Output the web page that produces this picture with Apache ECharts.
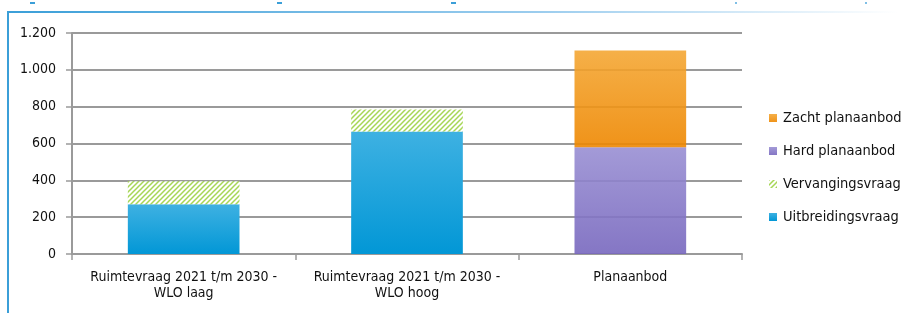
<!DOCTYPE html>
<html>
<head>
<meta charset="utf-8">
<script src="https://cdn.jsdelivr.net/npm/echarts@6/dist/echarts.min.js"></script>
<style>
html,body{margin:0;padding:0;background:#fff;}
#c{width:905px;height:313px;}
</style>
</head>
<body>
<div id="c"></div>
<script>
var categories = ['Ruimtevraag 2021 t/m 2030 -\nWLO laag', 'Ruimtevraag 2021 t/m 2030 -\nWLO hoog', 'Planaanbod'];
var uitbreidingsvraag = [270, 665, null];
var vervangingsvraag = [125, 120, null];
var hardPlanaanbod = [null, null, 580];
var zachtPlanaanbod = [null, null, 525];
var yTicks = [0, 200, 400, 600, 800, 1000, 1200];

var FONT = '"DejaVu Sans Condensed", "Liberation Sans Narrow", sans-serif';

function hatch() {
  var c = document.createElement('canvas');
  c.width = 5; c.height = 5;
  var g = c.getContext('2d');
  g.fillStyle = '#ffffff';
  g.fillRect(0, 0, 5, 5);
  g.strokeStyle = '#a6d655';
  g.lineWidth = 1.5;
  g.beginPath();
  g.moveTo(-1, 6); g.lineTo(6, -1);
  g.moveTo(-1, 1); g.lineTo(1, -1);
  g.moveTo(4, 6); g.lineTo(6, 4);
  g.stroke();
  return c;
}
function grad(top, bottom) {
  return new echarts.graphic.LinearGradient(0, 0, 0, 1, [
    {offset: 0, color: top}, {offset: 1, color: bottom}
  ]);
}

var chart = echarts.init(document.getElementById('c'), null, {renderer: 'canvas'});
chart.setOption({
  animation: false,
  backgroundColor: '#ffffff',
  grid: {left: 72, right: 163, top: 33, bottom: 59, containLabel: false},
  xAxis: {
    type: 'category',
    data: categories,
    axisLine: {lineStyle: {color: '#9a9a9a', width: 2}},
    axisTick: {show: true, length: 6, lineStyle: {color: '#9a9a9a', width: 1.5}},
    axisLabel: {color: '#111', fontFamily: FONT, fontSize: 14, lineHeight: 15.5, margin: 16, interval: 0}
  },
  yAxis: {
    type: 'value',
    min: yTicks[0],
    max: yTicks[yTicks.length - 1],
    interval: 200,
    axisLine: {show: true, lineStyle: {color: '#9a9a9a', width: 2}},
    axisTick: {show: true, length: 6, lineStyle: {color: '#9a9a9a', width: 1.5}},
    splitLine: {lineStyle: {color: '#9a9a9a', width: 2}},
    axisLabel: {
      color: '#111', fontFamily: FONT, fontSize: 14, margin: 16,
      formatter: function (v) { return v.toLocaleString('nl-NL'); }
    }
  },
  legend: {
    orient: 'vertical',
    left: 764,
    top: 104,
    itemWidth: 8,
    itemHeight: 8,
    itemGap: 15,
    icon: 'rect',
    data: ['Zacht planaanbod', 'Hard planaanbod', 'Vervangingsvraag', 'Uitbreidingsvraag'],
    textStyle: {color: '#111', fontFamily: FONT, fontSize: 14.5, lineHeight: 18, padding: [0, 0, 0, 1]}
  },
  series: [
    {name: 'Uitbreidingsvraag', type: 'bar', stack: 'a', barWidth: '50%', data: uitbreidingsvraag,
     itemStyle: {color: grad('#3eb1e2', '#0297d6')}},
    {name: 'Vervangingsvraag', type: 'bar', stack: 'a', data: vervangingsvraag,
     itemStyle: {color: {image: hatch(), repeat: 'repeat'}}},
    {name: 'Hard planaanbod', type: 'bar', stack: 'a', data: hardPlanaanbod,
     itemStyle: {color: grad('#998fd3', '#7767be'), opacity: 0.9}},
    {name: 'Zacht planaanbod', type: 'bar', stack: 'a', data: zachtPlanaanbod,
     itemStyle: {color: grad('#f4a734', '#ee8700'), opacity: 0.9}}
  ],
  graphic: [
    {type: 'rect', left: 7, top: 12, shape: {width: 2, height: 301}, style: {fill: '#3b9fd8'}},
    {type: 'rect', left: 7, top: 11, shape: {width: 890, height: 2},
     style: {fill: new echarts.graphic.LinearGradient(0, 0, 1, 0, [
       {offset: 0, color: '#3b9fd8'}, {offset: 0.6, color: '#9ccdee'}, {offset: 1, color: '#ffffff'}])}},
    {type: 'rect', left: 30, top: 2, shape: {width: 5, height: 2}, style: {fill: '#3b9fd8'}},
    {type: 'rect', left: 277, top: 2, shape: {width: 5, height: 2}, style: {fill: '#3b9fd8'}},
    {type: 'rect', left: 451, top: 2, shape: {width: 5, height: 2}, style: {fill: '#3b9fd8'}},
    {type: 'rect', left: 735, top: 2, shape: {width: 2, height: 2}, style: {fill: '#7fbfe6'}},
    {type: 'rect', left: 865, top: 2, shape: {width: 2, height: 2}, style: {fill: '#7fbfe6'}}
  ]
});
</script>
</body>
</html>
